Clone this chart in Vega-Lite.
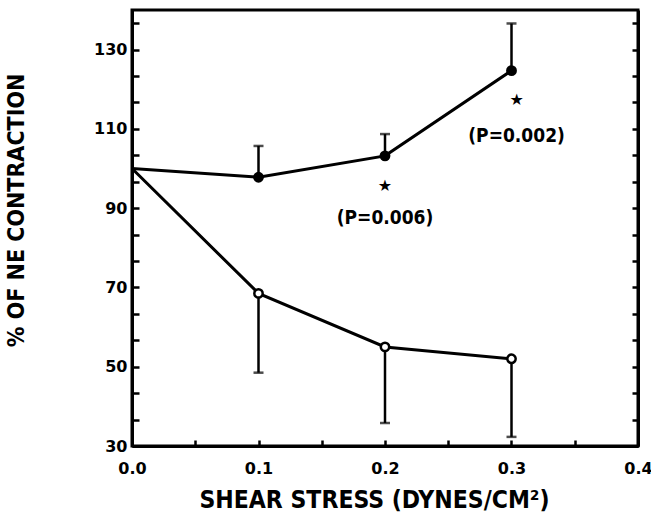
{
  "$schema": "https://vega.github.io/schema/vega-lite/v6.json",
  "width": 506,
  "height": 436,
  "autosize": "none",
  "padding": {"left": 132, "top": 10, "right": 13, "bottom": 74},
  "background": "white",
  "config": {
    "view": {"stroke": "black", "strokeWidth": 3},
    "axis": {
      "domainColor": "black", "domainWidth": 3, "tickColor": "black", "tickWidth": 2.5,
      "grid": false, "labelFont": "DejaVu Sans",
      "labelFontWeight": "bold", "labelFontSize": 16, "labelColor": "black",
      "titleFont": "DejaVu Sans Condensed, Liberation Sans Narrow, sans-serif",
      "titleFontWeight": "bold", "titleFontSize": 23, "titleColor": "black"
    }
  },
  "datasets": {
    "pts": [
      {"shear": 0.0, "series": "filled", "value": 100},
      {"shear": 0.1, "series": "filled", "value": 97.8},
      {"shear": 0.2, "series": "filled", "value": 103.2},
      {"shear": 0.3, "series": "filled", "value": 124.7},
      {"shear": 0.0, "series": "open", "value": 100},
      {"shear": 0.1, "series": "open", "value": 68.5},
      {"shear": 0.2, "series": "open", "value": 55.0},
      {"shear": 0.3, "series": "open", "value": 52.0}
    ],
    "bars": [
      {"shear": 0.1, "lo": 97.8, "hi": 105.7, "cap": 105.7},
      {"shear": 0.2, "lo": 103.2, "hi": 108.7, "cap": 108.7},
      {"shear": 0.3, "lo": 124.7, "hi": 136.6, "cap": 136.6},
      {"shear": 0.1, "lo": 48.5, "hi": 68.5, "cap": 48.5},
      {"shear": 0.2, "lo": 35.8, "hi": 55.0, "cap": 35.8},
      {"shear": 0.3, "lo": 32.3, "hi": 52.0, "cap": 32.3}
    ],
    "notes": [
      {"shear": 0.2, "star": 95.6, "label": "(P=0.006)", "ly": 87.6},
      {"shear": 0.304, "star": 117.3, "label": "(P=0.002)", "ly": 108.3}
    ]
  },
  "layer": [
    {
      "data": {"name": "bars"},
      "mark": {"type": "rule", "color": "black", "strokeWidth": 2.5},
      "encoding": {
        "x": {"field": "shear", "type": "quantitative",
          "scale": {"domain": [0, 0.4], "nice": false, "zero": false},
          "axis": {"title": "SHEAR STRESS (DYNES/CM²)", "values": [0, 0.05, 0.1, 0.15, 0.2, 0.25, 0.3, 0.35, 0.4],
            "labelExpr": "(round(datum.value*100) % 10 == 0) ? format(datum.value, '.1f') : ''",
            "tickSize": -6, "labelPadding": 20, "titlePadding": 12, "titleX": 242, "titleFontSize": 24.5, "labelFlush": false}},
        "y": {"field": "lo", "type": "quantitative",
          "scale": {"domain": [30, 140], "nice": false, "zero": false},
          "axis": {"title": "% OF NE CONTRACTION",
            "values": [30, 36.667, 43.333, 50, 56.667, 63.333, 70, 76.667, 83.333, 90, 96.667, 103.333, 110, 116.667, 123.333, 130, 136.667],
            "labelExpr": "(abs(datum.value - round(datum.value)) < 0.01 && round(datum.value) % 20 == 10) ? format(datum.value, 'd') : ''",
            "tickSize": -7, "labelPadding": 12, "titlePadding": 65, "titleY": 200, "labelFlush": false}},
        "y2": {"field": "hi"}
      }
    },
    {
      "data": {"name": "bars"},
      "mark": {"type": "tick", "orient": "horizontal", "color": "black", "thickness": 2.5, "size": 10},
      "encoding": {
        "x": {"field": "shear", "type": "quantitative"},
        "y": {"field": "cap", "type": "quantitative", "axis": null}
      }
    },
    {
      "data": {"name": "pts"},
      "mark": {"type": "line", "color": "black", "strokeWidth": 3},
      "encoding": {
        "x": {"field": "shear", "type": "quantitative"},
        "y": {"field": "value", "type": "quantitative", "axis": null},
        "detail": {"field": "series"}
      }
    },
    {
      "data": {"name": "pts"},
      "transform": [{"filter": "datum.shear > 0"}],
      "mark": {"type": "point", "shape": "circle", "size": 70, "strokeWidth": 2.5, "stroke": "black", "opacity": 1},
      "encoding": {
        "x": {"field": "shear", "type": "quantitative"},
        "y": {"field": "value", "type": "quantitative", "axis": null},
        "fill": {"field": "series", "type": "nominal", "scale": {"domain": ["filled", "open"], "range": ["black", "white"]}, "legend": null}
      }
    },
    {
      "data": {"name": "notes"},
      "mark": {"type": "text", "text": "★", "fontSize": 16, "color": "black", "font": "DejaVu Sans"},
      "encoding": {
        "x": {"field": "shear", "type": "quantitative"},
        "y": {"field": "star", "type": "quantitative", "axis": null}
      }
    },
    {
      "data": {"name": "notes"},
      "mark": {"type": "text", "fontSize": 19, "fontWeight": "bold", "color": "black", "font": "DejaVu Sans Condensed, Liberation Sans Narrow, sans-serif"},
      "encoding": {
        "x": {"field": "shear", "type": "quantitative"},
        "y": {"field": "ly", "type": "quantitative", "axis": null},
        "text": {"field": "label"}
      }
    },
    {
      "data": {"values": [{"v": 30}]},
      "mark": {"type": "point", "opacity": 0},
      "encoding": {
        "y": {"field": "v", "type": "quantitative",
          "axis": {"orient": "right", "title": null, "labels": false,
            "values": [30, 36.667, 43.333, 50, 56.667, 63.333, 70, 76.667, 83.333, 90, 96.667, 103.333, 110, 116.667, 123.333, 130, 136.667],
            "tickSize": -6}}
      }
    }
  ],
  "resolve": {"axis": {"y": "independent"}}
}
